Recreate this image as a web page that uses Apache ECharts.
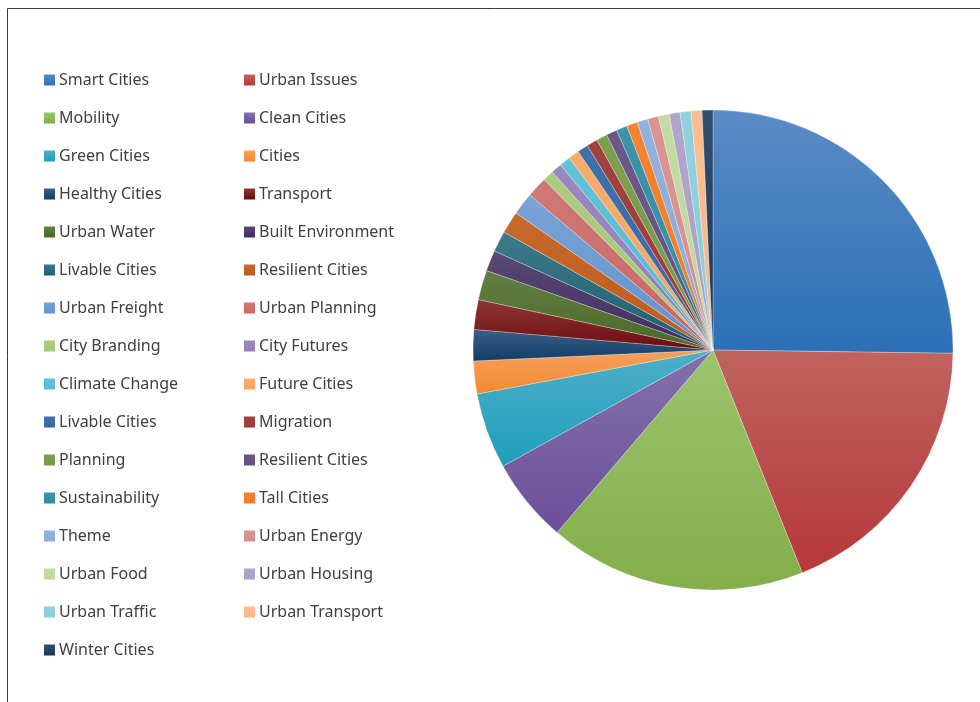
<!DOCTYPE html>
<html>
<head>
<meta charset="utf-8">
<script src="https://cdn.jsdelivr.net/npm/echarts@6/dist/echarts.min.js"></script>
<style>
  html, body { margin: 0; padding: 0; background: #fff; }
  #main { width: 980px; height: 702px; }
</style>
</head>
<body>
<div id="main"></div>
<script>
// 类别（图例顺序 = 扇区顺序）
var categories = [
  'Smart Cities', 'Urban Issues', 'Mobility', 'Clean Cities', 'Green Cities', 'Cities',
  'Healthy Cities', 'Transport', 'Urban Water', 'Built Environment', 'Livable Cities',
  'Resilient Cities', 'Urban Freight', 'Urban Planning', 'City Branding', 'City Futures',
  'Climate Change', 'Future Cities', 'Livable Cities', 'Migration', 'Planning',
  'Resilient Cities', 'Sustainability', 'Tall Cities', 'Theme', 'Urban Energy',
  'Urban Food', 'Urban Housing', 'Urban Traffic', 'Urban Transport', 'Winter Cities'
];
// 份额（%）
var shares = [
  25.2, 18.7, 17.3, 5.7, 5.1, 2.2,
  2.1, 2.0, 2.0, 1.4, 1.4,
  1.5, 1.5, 1.4, 0.73, 0.73,
  0.73, 0.73, 0.73, 0.73, 0.73,
  0.73, 0.73, 0.73, 0.73, 0.73,
  0.73, 0.73, 0.73, 0.73, 0.73
];

// 渐变色：上浅下深
var palette = [
  ['#5b8bc6', '#2a70b6'], ['#c0635f', '#b6373a'], ['#9cc46d', '#83ae49'],
  ['#8470ac', '#6b5099'], ['#4eb0c8', '#1e9ebb'], ['#f7a05e', '#f4892f'],
  ['#3e5f83', '#0f3d6a'], ['#8c3838', '#6d0b0e'], ['#627f45', '#4a6a25'],
  ['#5a4a74', '#3f2b60'], ['#3f7a89', '#1a5f70'], ['#c66a2e', '#c15a1b'],
  ['#7aa3d5', '#6193cd'], ['#d07a77', '#c96561'], ['#aacd80', '#a5ca78'],
  ['#9b88bf', '#9480b9'], ['#62c2d6', '#56bcd2'], ['#f9ac6d', '#f8a260'],
  ['#4170a8', '#356aa6'], ['#a1423f', '#9b3b38'], ['#7d9f4e', '#779a46'],
  ['#6b5888', '#655182'], ['#3a93aa', '#338ea6'], ['#f58332', '#f47c25'],
  ['#90b2dd', '#8aadd9'], ['#da9593', '#d68e8c'], ['#c3daa2', '#bfd79c'],
  ['#b2a5ca', '#ada0c7'], ['#91d1df', '#8bcddd'], ['#fbbe8e', '#fab886'],
  ['#34506f', '#14355b']
];

// 重名项加零宽字符，避免图例合并
var seen = {};
var names = categories.map(function (c) {
  seen[c] = (seen[c] || 0) + 1;
  return c + new Array(seen[c]).join('\u200b');
});

var pieData = names.map(function (n, i) {
  return {
    name: n,
    value: shares[i],
    itemStyle: {
      color: new echarts.graphic.LinearGradient(0, 0, 0, 1, [
        { offset: 0, color: palette[i][0] },
        { offset: 1, color: palette[i][1] }
      ])
    }
  };
});

var leftCol = names.filter(function (n, i) { return i % 2 === 0; });
var rightCol = names.filter(function (n, i) { return i % 2 === 1; });

var legendBase = {
  orient: 'vertical',
  top: 70,
  padding: 0,
  itemWidth: 11,
  itemHeight: 11,
  itemGap: 18,
  icon: 'rect',
  selectedMode: false,
  itemStyle: { borderWidth: 0 },
  textStyle: {
    fontFamily: 'Noto Sans',
    fontSize: 16,
    lineHeight: 20,
    color: '#404040',
    padding: [0, 0, 0, -1]
  }
};

var myChart = echarts.init(document.getElementById('main'));
var option = {
  animation: false,
  backgroundColor: '#fff',
  graphic: [{
    type: 'rect',
    shape: { x: 7.5, y: 8.5, width: 1000, height: 800 },
    style: { fill: 'none', stroke: '#3a3a3a', lineWidth: 1 },
    z: -1
  }],
  legend: [
    Object.assign({}, legendBase, { left: 44, data: leftCol }),
    Object.assign({}, legendBase, { left: 244, data: rightCol })
  ],
  series: [{
    type: 'pie',
    center: [713, 350],
    radius: 240,
    startAngle: 90,
    clockwise: true,
    avoidLabelOverlap: false,
    label: { show: false },
    labelLine: { show: false },
    emphasis: { disabled: true },
    itemStyle: { borderColor: 'rgba(255,255,255,0.55)', borderWidth: 0.5 },
    data: pieData
  }]
};
myChart.setOption(option);
</script>
</body>
</html>
